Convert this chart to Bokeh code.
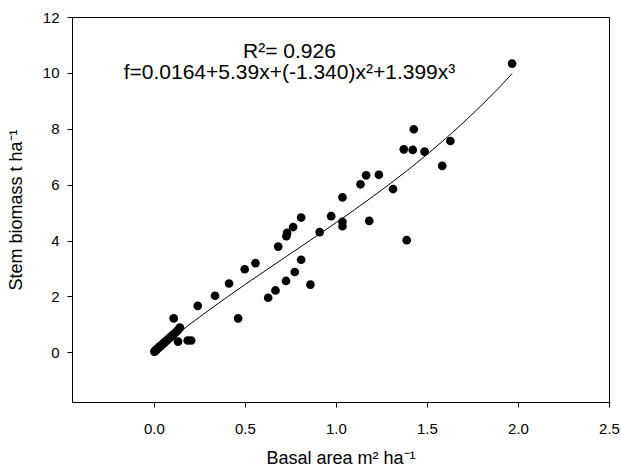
from bokeh.plotting import figure
from bokeh.models import FixedTicker, Label, Range1d, PrintfTickFormatter
from bokeh.embed import file_html
from bokeh.resources import INLINE

# observed points (basal area, stem biomass)
basal_area = [0.000, 0.003, 0.006, 0.010, 0.014, 0.018, 0.022, 0.027, 0.032, 0.038,
              0.044, 0.050, 0.057, 0.064, 0.071, 0.078, 0.085, 0.092, 0.100, 0.110,
              0.120, 0.130, 0.140,
              0.106, 0.130, 0.183, 0.202, 0.238, 0.333, 0.410, 0.460, 0.496, 0.555,
              0.625, 0.665, 0.723, 0.771, 0.806, 0.857, 0.680, 0.725, 0.729, 0.762,
              0.806, 0.908, 0.971, 1.033, 1.033, 1.033, 1.180, 1.132, 1.163, 1.233,
              1.311, 1.386, 1.370, 1.419, 1.425, 1.484, 1.581, 1.626, 1.965]
stem_biomass = [0.04, 0.06, 0.08, 0.10, 0.13, 0.15, 0.18, 0.21, 0.23, 0.27,
                0.30, 0.34, 0.38, 0.42, 0.46, 0.50, 0.54, 0.58, 0.63, 0.69,
                0.75, 0.82, 0.90,
                1.23, 0.40, 0.44, 0.44, 1.68, 2.04, 2.48, 1.23, 2.99, 3.21,
                1.97, 2.23, 2.57, 2.89, 3.33, 2.44, 3.80, 4.17, 4.29, 4.50,
                4.84, 4.32, 4.89, 5.56, 4.69, 4.53, 4.72, 6.03, 6.35, 6.37,
                5.86, 4.03, 7.28, 7.26, 8.00, 7.20, 6.69, 7.58, 10.35]

# fitted curve as drawn
curve_x = [0.0, 0.1, 0.2, 0.3, 0.4, 0.5, 0.6, 0.7, 0.8, 0.9, 1.0, 1.1, 1.2,
           1.3, 1.4, 1.5, 1.6, 1.7, 1.8, 1.9, 1.965]
curve_y = [0.016, 0.543, 1.046, 1.529, 1.996, 2.451, 2.898, 3.339, 3.778, 4.219,
           4.666, 5.123, 5.592, 6.077, 6.582, 7.111, 7.668, 8.255, 8.876, 9.536, 9.99]

x_ticks = [0.0, 0.5, 1.0, 1.5, 2.0, 2.5]
y_ticks = [0, 2, 4, 6, 8, 10, 12]

r2_text = "R\u00b2= 0.926"
eq_text = "f=0.0164+5.39x+(-1.340)x\u00b2+1.399x\u00b3"

FONT = "Liberation Sans"

p = figure(width=621, height=470,
           x_range=Range1d(-0.45, 2.5), y_range=Range1d(-1.78, 12),
           output_backend="svg", toolbar_location=None,
           min_border_left=72, min_border_right=12,
           min_border_top=17, min_border_bottom=66)

p.xgrid.visible = False
p.ygrid.visible = False
p.outline_line_color = "black"
p.outline_line_width = 1
p.background_fill_color = "white"
p.border_fill_color = "white"

for ax in (p.xaxis, p.yaxis):
    ax.minor_tick_line_color = None
    ax.major_tick_out = 5
    ax.major_tick_in = 0
    ax.axis_line_color = "black"
    ax.major_tick_line_color = "black"
    ax.major_label_text_font = FONT
    ax.major_label_text_font_size = "15px"
    ax.major_label_text_color = "black"
    ax.axis_label_text_font = FONT
    ax.axis_label_text_font_size = "18px"
    ax.axis_label_text_font_style = "normal"
    ax.axis_label_text_color = "black"

p.xaxis.ticker = FixedTicker(ticks=x_ticks)
p.xaxis.formatter = PrintfTickFormatter(format="%.1f")
p.yaxis.ticker = FixedTicker(ticks=y_ticks)
p.yaxis.formatter = PrintfTickFormatter(format="%d")

p.xaxis.axis_label = "Basal area m\u00b2 ha\u207b\u00b9"
p.yaxis.axis_label = "Stem biomass t ha\u207b\u00b9"
p.xaxis.major_label_standoff = 16
p.xaxis.axis_label_standoff = 11
p.yaxis.major_label_standoff = 8
p.yaxis.axis_label_standoff = 14

p.line(curve_x, curve_y, line_color="black", line_width=1)
p.scatter(basal_area, stem_biomass, size=8.7, fill_color="black", line_color=None)

p.add_layout(Label(x=0.742, y=10.82, text=r2_text, text_align="center",
                   text_baseline="middle", text_font=FONT, text_font_size="21px",
                   text_color="black"))
p.add_layout(Label(x=0.742, y=10.05, text=eq_text, text_align="center",
                   text_baseline="middle", text_font=FONT, text_font_size="21px",
                   text_color="black"))

open("out.html", "w").write(file_html(p, INLINE))
